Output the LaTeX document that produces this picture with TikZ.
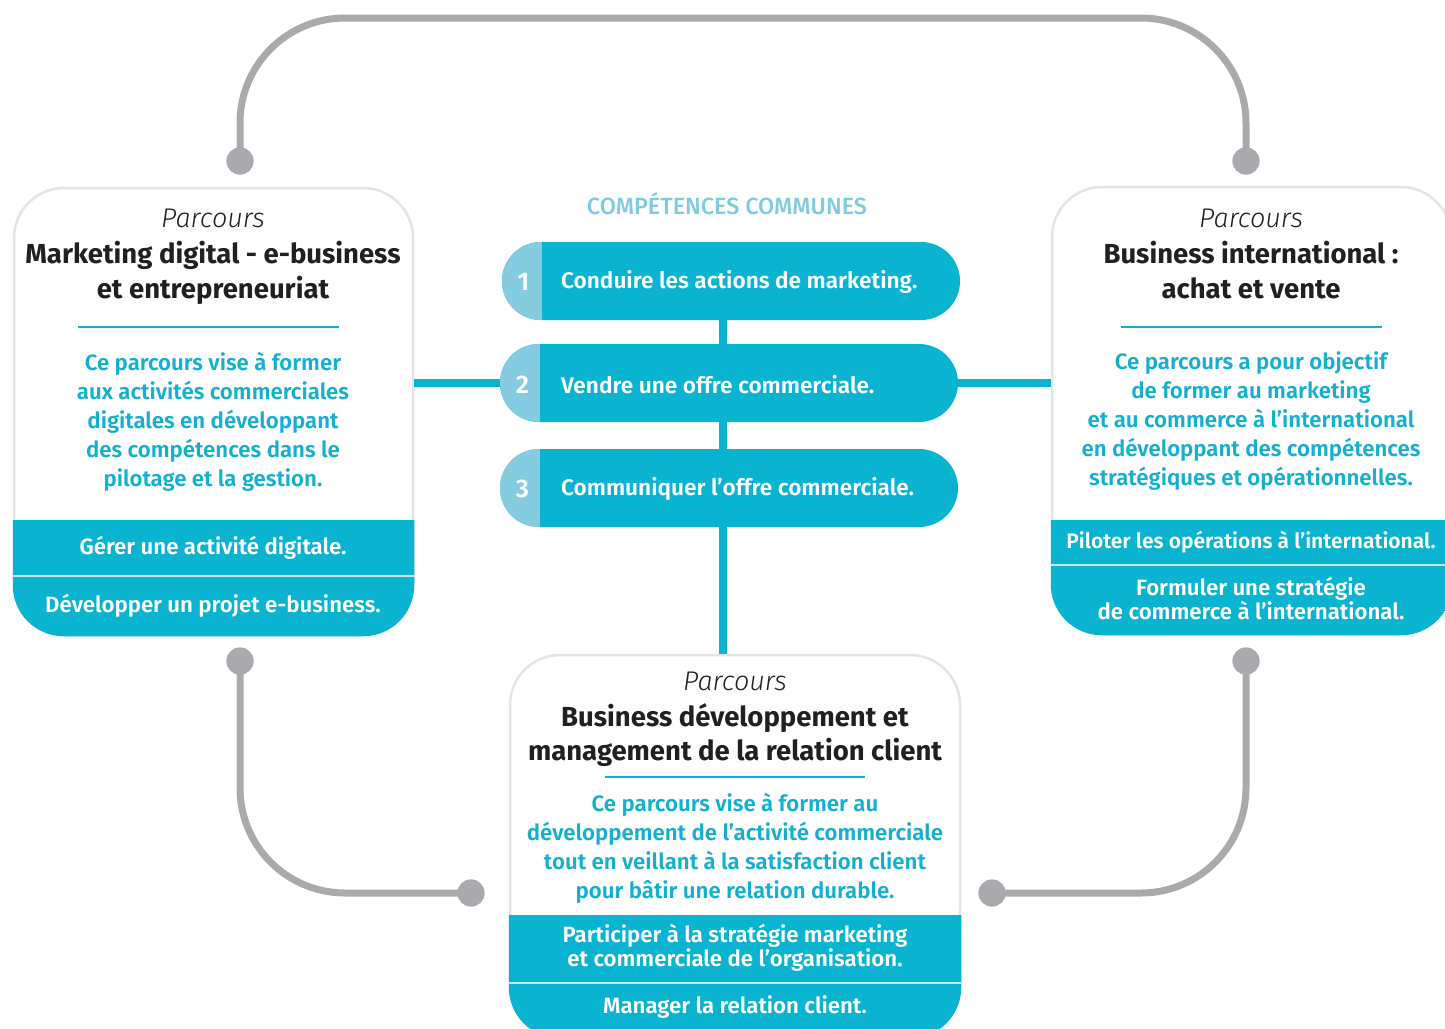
\documentclass[tikz,border=0pt]{standalone}
\usepackage{fontspec}
\setmainfont{Fira Sans}
\newfontfamily\medf{Fira Sans Medium}
\newfontfamily\semif{Fira Sans SemiBold}
\newfontfamily\lightf{Fira Sans Light}
\usetikzlibrary{calc}
\definecolor{tealA}{HTML}{0AB4D0}
\definecolor{tealT}{HTML}{14B0CF}
\definecolor{lightT}{HTML}{86CCE1}
\definecolor{headT}{HTML}{7FCBE0}
\definecolor{greyL}{HTML}{A9AAAD}
\definecolor{cardB}{HTML}{E3E4E5}
\definecolor{sepL}{HTML}{C4EAF2}
\definecolor{ink}{HTML}{231F20}
\tikzset{
  card/.style={draw=cardB, line width=2.5pt, fill=white, rounded corners=50pt, inner sep=0pt},
  pillbox/.style={fill=tealA, rounded corners=39pt, minimum height=78pt, inner sep=0pt,
     path picture={\fill[lightT, sharp corners] (path picture bounding box.north west) rectangle ([xshift=39.5pt]path picture bounding box.south west);}},
  dot/.style={circle, fill=greyL, minimum size=27pt, inner sep=0pt},
  greyline/.style={draw=greyL, line width=7pt, rounded corners=105pt},
  tealline/.style={draw=tealA, line width=7.5pt},
  rule/.style={draw=tealA, line width=2.5pt},
  sep/.style={draw=sepL, line width=2.5pt},
  parc/.style={font=\fontsize{27}{30}\lightf\itshape, text=ink, inner sep=0pt},
  ttl/.style={font=\fontsize{27.5}{34.5}\selectfont\bfseries, text=ink, align=center, inner sep=0pt},
  desc/.style={font=\fontsize{22.2}{29}\semif, text=tealT, align=center, inner sep=0pt},
  band/.style={font=\fontsize{22.2}{24}\semif, text=white, align=center, inner sep=0pt},
  ptxt/.style={font=\fontsize{22.6}{27}\semif, text=white, anchor=west, inner sep=0pt},
  pnum/.style={font=\fontsize{25.5}{27}\semif, text=white, inner sep=0pt},
}
\begin{document}
\begin{tikzpicture}[x=1pt,y=-1pt]
\useasboundingbox (0,0) rectangle (1445,1028);
\clip (0,0) rectangle (1445,1028);

% cards
\node[card, minimum width=399pt, minimum height=447pt] (L) at (213.5,411.5) {};
\node[card, minimum width=399pt, minimum height=447pt] (R) at (1251.5,410.5) {};
\node[card, minimum width=450pt, minimum height=382pt] (B) at (735,846) {};

% bands
\begin{scope}
\clip[rounded corners=51pt] (12.75,186.75) rectangle (414.25,636.25);
\fill[tealA] (10,520) rectangle (420,640);
\draw[sep] (10,576) -- (420,576);
\end{scope}
\begin{scope}
\clip[rounded corners=51pt] (1050.75,185.75) rectangle (1452.25,635.25);
\fill[tealA] (1048,520) rectangle (1460,640);
\draw[sep] (1048,565) -- (1460,565);
\end{scope}
\begin{scope}
\clip[rounded corners=51pt] (508.75,653.75) rectangle (961.25,1038.25);
\fill[tealA] (505,915) rectangle (965,1045);
\draw[sep] (505,983) -- (965,983);
\end{scope}

% teal connectors
\coordinate (vtop) at (723,300);
\draw[tealline] (vtop) -- (B.north -| vtop);
\node[pillbox, minimum width=458pt] (P1) at (731,281) {};
\node[pillbox, minimum width=458pt] (P2) at (729,383) {};
\node[pillbox, minimum width=458pt] (P3) at (729,488) {};
\draw[tealline] (L.east |- P2) -- (P2.west);
\draw[tealline] (P2.east) -- (R.west |- P2);

% pill texts
\node[pnum] (n1) at (523.5,282) {1};
\node[pnum] (n2) at (522.5,385) {2};
\node[pnum] (n3) at (522.5,489) {3};
\node[ptxt] (t1) at (561,282) {Conduire les actions de marketing.};
\node[ptxt] (t2) at (561,385) {Vendre une offre commerciale.};
\node[ptxt] (t3) at (561,489) {Communiquer l’offre commerciale.};
\node[font=\fontsize{23.4}{26}\medf, text=headT, inner sep=0pt] (head) at (727,204) {COMPÉTENCES COMMUNES};

% grey connectors
\node[dot] (d1) at (240,161) {};
\node[dot] (d2) at (1246,161) {};
\node[dot] (d3) at (240,661) {};
\node[dot] (d4) at (471,893) {};
\node[dot] (d5) at (1246,661) {};
\node[dot] (d6) at (992,893) {};
\coordinate (c1) at (240,18);
\coordinate (c2) at (1246,18);
\coordinate (c3) at (240,893);
\coordinate (c4) at (1246,893);
\draw[greyline] (d1.center) -- (c1) -- (c2) -- (d2.center);
\draw[greyline] (d3.center) -- (c3) -- (d4.center);
\draw[greyline] (d5.center) -- (c4) -- (d6.center);
\node[dot] at (d1) {};
\node[dot] at (d2) {};
\node[dot] at (d3) {};
\node[dot] at (d4) {};
\node[dot] at (d5) {};
\node[dot] at (d6) {};

% left card text
\node[parc] (Lp) at (213,218) {Parcours};
\node[ttl] (Lt) at (213,273) {Marketing digital - e-business\\et entrepreneuriat};
\draw[rule] (78,327) -- (339,327);
\node[desc] (Ld) at (213,422) {Ce parcours vise à former\\aux activités commerciales\\digitales en développant\\des compétences dans le\\pilotage et la gestion.};
\node[band] (Lb1) at (213,548) {Gérer une activité digitale.};
\node[band] (Lb2) at (213,606) {Développer un projet e-business.};

% right card text
\node[parc] (Rp) at (1251,218) {Parcours};
\node[ttl] (Rt) at (1251,270) {Business international :\\achat et vente};
\draw[rule] (1121,327) -- (1382,327);
\node[desc] (Rd) at (1251,421.5) {Ce parcours a pour objectif\\de former au marketing\\et au commerce à l’international\\en développant des compétences\\stratégiques et opérationnelles.};
\node[band, font=\fontsize{21}{24}\semif] (Rb1) at (1251,542) {Piloter les opérations à l’international.};
\node[band] (Rb2) at (1251,598) {Formuler une stratégie\\de commerce à l’international.};

% bottom card text
\node[parc] (Bp) at (735,681) {Parcours};
\node[ttl] (Bt) at (735,735) {Business développement et\\management de la relation client};
\draw[rule] (605,777) -- (865,777);
\node[desc] (Bd) at (735,848) {Ce parcours vise à former au\\développement de l’activité commerciale\\tout en veillant à la satisfaction client\\pour bâtir une relation durable.};
\node[band] (Bb1) at (735,948) {Participer à la stratégie marketing\\et commerciale de l’organisation.};
\node[band] (Bb2) at (735,1007) {Manager la relation client.};
\end{tikzpicture}
\end{document}
